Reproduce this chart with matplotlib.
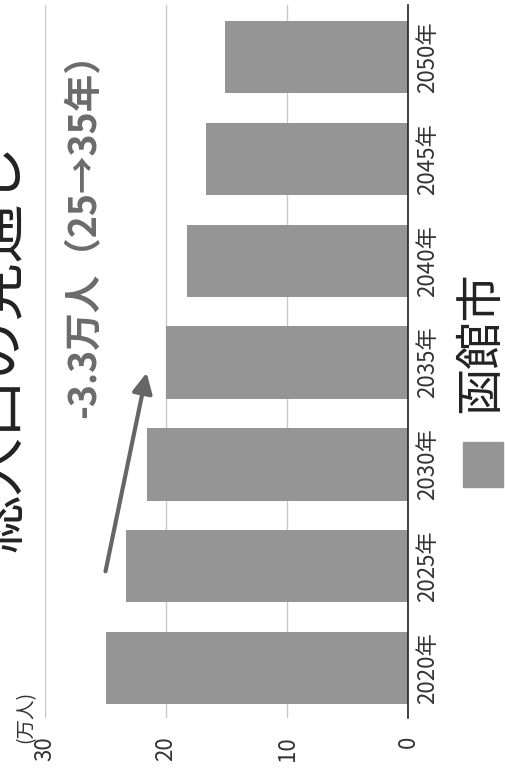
import matplotlib.pyplot as plt
from matplotlib.patches import Rectangle

plt.rcParams['font.family'] = ['Noto Sans CJK JP', 'DejaVu Sans']

# 函館市 総人口の見通し（万人）
years = ['2020年', '2025年', '2030年', '2035年', '2040年', '2045年', '2050年']
population = [25.0, 23.3, 21.6, 20.0, 18.3, 16.7, 15.1]
value_ticks = [0, 10, 20, 30]

bar_color = '#959595'
text_color = '#333333'

fig = plt.figure(figsize=(5.06, 7.76), dpi=100)
ax = fig.add_axes([45 / 506, 1 - 718 / 776, (408 - 45) / 506, (718 - 5) / 776])

pos = list(range(len(years)))
ax.barh(pos, population, height=0.71, color=bar_color, zorder=2)

ax.set_xlim(30, 0)
ax.set_ylim(-0.49, 6.51)
ax.set_xticks(value_ticks)
ax.set_xticklabels([str(v) for v in value_ticks], rotation=90, fontsize=16,
                   color=text_color)
ax.set_yticks(pos)
ax.set_yticklabels(years, rotation=90, fontsize=16, color=text_color, va='center')
ax.yaxis.tick_right()
ax.tick_params(axis='x', length=0, pad=13)
ax.tick_params(axis='y', length=0, pad=6)

ax.grid(axis='x', color='#c8c8c8', linewidth=1.0, zorder=0)
for side in ['left', 'top', 'bottom']:
    ax.spines[side].set_visible(False)
ax.spines['right'].set_color('#222222')
ax.spines['right'].set_linewidth(1.2)

# change 2025 -> 2035
ax.annotate('', xy=(population[3] + 1.6, 2.9), xytext=(population[1] + 1.7, 0.95),
            arrowprops=dict(arrowstyle='-|>', color='#666666', lw=3,
                            mutation_scale=30, shrinkA=0, shrinkB=0), zorder=3)
drop = population[1] - population[3]
fig.text(84 / 506, 1 - 226 / 776, f'-{drop:.1f}万人（25→35年）', rotation=90,
         ha='center', va='center', fontsize=27, fontweight='bold', color='#6b6b6b')

# title, unit and legend
fig.text(0.0, 1 - 348 / 776, '総人口の見通し', rotation=90, ha='center',
         va='center', fontsize=42, color='#222222')
fig.text(26 / 506, 1 - 743 / 776, '(万人)', rotation=90, ha='center', va='bottom',
         fontsize=14, color=text_color)
fig.patches.append(Rectangle((463 / 506, 1 - 487 / 776), 40 / 506, 45 / 776,
                             transform=fig.transFigure, color=bar_color))
fig.text(481 / 506, 1 - 342 / 776, '函館市', rotation=90, ha='center', va='center',
         fontsize=34, color='#222222')

fig.savefig('out.png', dpi=100)
